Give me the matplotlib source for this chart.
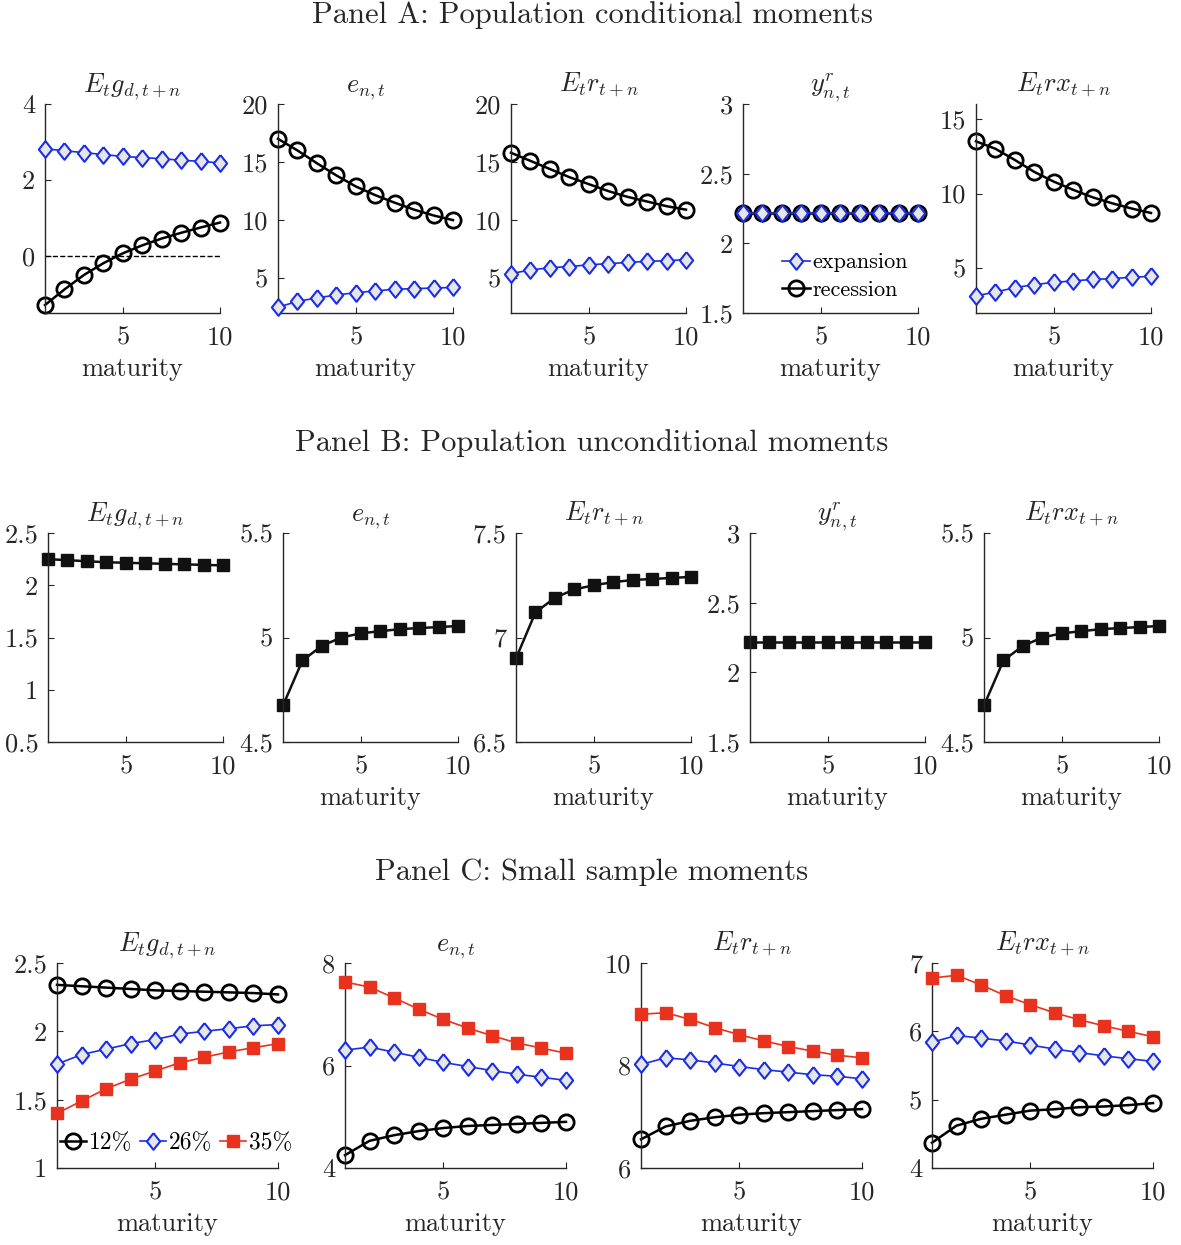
import numpy as np
import matplotlib
matplotlib.use('Agg')
import matplotlib.pyplot as plt
from matplotlib.ticker import FuncFormatter

plt.rcParams['font.family'] = 'serif'
plt.rcParams['font.serif'] = ['cmr10', 'DejaVu Serif']
plt.rcParams['mathtext.fontset'] = 'cm'
plt.rcParams['axes.formatter.use_mathtext'] = True
plt.rcParams['axes.unicode_minus'] = False

maturity = np.arange(1, 11)
titles5 = [r'$E_t g_{d,t+n}$', r'$e_{n,t}$', r'$E_t r_{t+n}$', r'$y^r_{n,t}$', r'$E_t rx_{t+n}$']
titles4 = [r'$E_t g_{d,t+n}$', r'$e_{n,t}$', r'$E_t r_{t+n}$', r'$E_t rx_{t+n}$']

# Panel A: population conditional moments
a_exp = [
    [2.82, 2.77, 2.72, 2.67, 2.62, 2.59, 2.56, 2.52, 2.49, 2.45],
    [2.5, 3.0, 3.3, 3.55, 3.75, 3.9, 4.05, 4.1, 4.15, 4.2],
    [5.4, 5.7, 5.9, 6.0, 6.15, 6.25, 6.35, 6.45, 6.5, 6.6],
    [2.22] * 10,
    [3.15, 3.4, 3.7, 3.9, 4.05, 4.15, 4.25, 4.3, 4.4, 4.45],
]
a_rec = [
    [-1.29, -0.88, -0.5, -0.19, 0.07, 0.28, 0.46, 0.61, 0.75, 0.88],
    [17.0, 16.0, 14.9, 13.85, 12.9, 12.15, 11.5, 10.9, 10.4, 10.0],
    [15.8, 15.1, 14.4, 13.7, 13.1, 12.5, 12.0, 11.6, 11.2, 10.9],
    [2.22] * 10,
    [13.5, 13.0, 12.25, 11.45, 10.8, 10.25, 9.75, 9.35, 9.0, 8.7],
]
a_ylim = [(-1.5, 4), (2, 20), (2, 20), (1.5, 3), (2, 16)]
a_yticks = [[0, 2, 4], [5, 10, 15, 20], [5, 10, 15, 20], [1.5, 2, 2.5, 3], [5, 10, 15]]

# Panel B: population unconditional moments
b_vals = [
    [2.25, 2.24, 2.23, 2.22, 2.215, 2.21, 2.205, 2.2, 2.195, 2.19],
    [4.675, 4.89, 4.96, 5.0, 5.02, 5.03, 5.04, 5.045, 5.05, 5.055],
    [6.9, 7.12, 7.19, 7.23, 7.25, 7.265, 7.275, 7.28, 7.285, 7.29],
    [2.22] * 10,
    [4.675, 4.89, 4.96, 5.0, 5.02, 5.03, 5.04, 5.045, 5.05, 5.055],
]
b_ylim = [(0.5, 2.5), (4.5, 5.5), (6.5, 7.5), (1.5, 3), (4.5, 5.5)]
b_yticks = [[0.5, 1, 1.5, 2, 2.5], [4.5, 5, 5.5], [6.5, 7, 7.5], [1.5, 2, 2.5, 3], [4.5, 5, 5.5]]

# Panel C: small sample moments (12%, 26%, 35%)
c_12 = [
    [2.34, 2.33, 2.32, 2.31, 2.3, 2.295, 2.29, 2.285, 2.28, 2.27],
    [4.25, 4.53, 4.64, 4.72, 4.78, 4.82, 4.84, 4.86, 4.88, 4.9],
    [6.56, 6.81, 6.92, 6.99, 7.04, 7.07, 7.09, 7.11, 7.13, 7.15],
    [4.37, 4.62, 4.72, 4.78, 4.84, 4.86, 4.89, 4.9, 4.92, 4.95],
]
c_26 = [
    [1.76, 1.83, 1.87, 1.91, 1.94, 1.98, 2.0, 2.02, 2.04, 2.05],
    [6.3, 6.36, 6.26, 6.16, 6.06, 5.98, 5.9, 5.83, 5.77, 5.71],
    [8.02, 8.15, 8.11, 8.05, 7.98, 7.92, 7.87, 7.82, 7.79, 7.74],
    [5.84, 5.94, 5.9, 5.86, 5.8, 5.74, 5.69, 5.64, 5.6, 5.56],
]
c_35 = [
    [1.4, 1.49, 1.58, 1.65, 1.71, 1.77, 1.81, 1.85, 1.88, 1.91],
    [7.63, 7.53, 7.32, 7.1, 6.9, 6.73, 6.58, 6.44, 6.34, 6.24],
    [9.0, 9.03, 8.9, 8.74, 8.6, 8.48, 8.37, 8.28, 8.2, 8.15],
    [6.78, 6.82, 6.68, 6.52, 6.39, 6.27, 6.17, 6.08, 6.0, 5.92],
]
c_ylim = [(1, 2.5), (4, 8), (6, 10), (4, 7)]
c_yticks = [[1, 1.5, 2, 2.5], [4, 6, 8], [6, 8, 10], [4, 5, 6, 7]]

W, H = 1181, 1245
fig = plt.figure(figsize=(W / 100, H / 100), dpi=100)

FS = 19
TFS = 19
PFS = 22
TXT = '#262626'
diamond = [(0, 1), (0.8, 0), (0, -1), (-0.8, 0), (0, 1)]
circ = dict(color='k', lw=1.8, marker='o', ms=11, mfc='none', mec='k', mew=2, clip_on=False, zorder=2)
diam = dict(color='#1a2ee6', lw=1.2, marker=diamond, ms=12, mfc='#e6e6e6', mec='#1a2ee6', mew=1.5, clip_on=False, zorder=3)
sqk = dict(color='#111111', lw=1.8, marker='s', ms=8, mfc='#111111', mec='#111111', clip_on=False)
sqr = dict(color='#e8321e', lw=1.2, marker='s', ms=8.5, mfc='#e8321e', mec='#e8321e', clip_on=False, zorder=4)


def make_ax(left, top, width, bottom):
    ax = fig.add_axes([left / W, 1 - bottom / H, width / W, (bottom - top) / H])
    ax.spines['top'].set_visible(False)
    ax.spines['right'].set_visible(False)
    for s in ['left', 'bottom']:
        ax.spines[s].set_color(TXT)
        ax.spines[s].set_linewidth(1.0)
    ax.tick_params(direction='in', length=4, width=0.8, labelsize=FS, colors=TXT, pad=7)
    ax.tick_params(axis='x', pad=9)
    ax.set_xlim(1, 10)
    ax.set_xticks([5, 10])
    ax.yaxis.set_major_formatter(FuncFormatter(lambda v, p: '%g' % v))
    ax.xaxis.set_major_formatter(FuncFormatter(lambda v, p: '%g' % v))
    return ax


# Panel A
fig.text(592 / W, 1 - 15 / H, 'Panel A: Population conditional moments', ha='center', va='center', fontsize=PFS, color=TXT)
a_left = [45, 278, 511, 743, 976]
for i in range(5):
    ax = make_ax(a_left[i], 104, 175, 313)
    if i == 0:
        ax.plot([1, 10], [0, 0], 'k--', lw=1)
    ax.plot(maturity, a_exp[i], label='expansion', **diam)
    ax.plot(maturity, a_rec[i], label='recession', **circ)
    ax.set_ylim(*a_ylim[i])
    ax.set_yticks(a_yticks[i])
    ax.set_title(titles5[i], fontsize=TFS, color=TXT, pad=9)
    ax.set_xlabel('maturity', fontsize=FS, color=TXT, labelpad=6)
    if i == 3:
        ax.legend(loc='lower right', bbox_to_anchor=(1.02, 0.0), frameon=False, fontsize=16,
                  handlelength=1.3, handletextpad=0.1, labelspacing=0.35, borderaxespad=0.2)

# Panel B
fig.text(592 / W, 1 - 443 / H, 'Panel B: Population unconditional moments', ha='center', va='center', fontsize=PFS, color=TXT)
b_left = [48, 283, 516, 750, 984]
for i in range(5):
    ax = make_ax(b_left[i], 533, 175, 742)
    ax.plot(maturity, b_vals[i], **sqk)
    ax.set_ylim(*b_ylim[i])
    ax.set_yticks(b_yticks[i])
    ax.set_title(titles5[i], fontsize=TFS, color=TXT, pad=9)
    if i > 0:
        ax.set_xlabel('maturity', fontsize=FS, color=TXT, labelpad=6)

# Panel C
fig.text(592 / W, 1 - 872 / H, 'Panel C: Small sample moments', ha='center', va='center', fontsize=PFS, color=TXT)
c_left = [57, 345, 641, 932]
for i in range(4):
    ax = make_ax(c_left[i], 963, 221, 1168)
    ax.plot(maturity, c_12[i], label='12%', **circ)
    ax.plot(maturity, c_26[i], label='26%', **diam)
    ax.plot(maturity, c_35[i], label='35%', **sqr)
    ax.set_ylim(*c_ylim[i])
    ax.set_yticks(c_yticks[i])
    ax.set_title(titles4[i], fontsize=TFS, color=TXT, pad=9)
    ax.set_xlabel('maturity', fontsize=FS, color=TXT, labelpad=6)
    if i == 0:
        ax.legend(loc='lower left', bbox_to_anchor=(-0.03, 0.02), frameon=False, fontsize=17, ncol=3,
                  handlelength=1.1, handletextpad=0.15, columnspacing=0.3, borderaxespad=0.0)

fig.savefig('out.png', dpi=100)
